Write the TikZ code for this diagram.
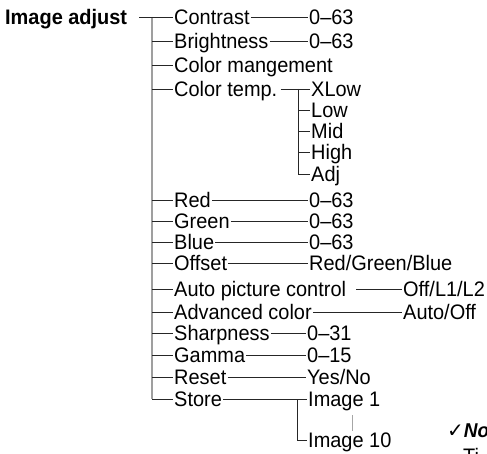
\documentclass[tikz,border=0pt]{standalone}
\usepackage{fontspec}
\setmainfont{Liberation Sans}[FakeStretch=0.95]
\newfontfamily\checkfont{DejaVu Sans}

\tikzset{
  entry/.style={anchor=west, inner sep=1pt, text height=15pt, text depth=0pt,
                font=\fontsize{21}{23}\selectfont},
  branch/.style={black!85, line width=0.8pt},
  trunk/.style={gray!75, line width=1.6pt},
}

\begin{document}
\begin{tikzpicture}[x=1pt, y=-1pt]
\useasboundingbox (0,0) rectangle (487,454);

%% === TITOLO E TRONCO ===
\node[entry, font=\fontsize{21}{23}\selectfont\bfseries] (title) at (4,17) {Image adjust};
\coordinate (ttop) at (152,17);
\coordinate (tbot) at (152,399);

%% === VOCI DEL MENU ===
\foreach \n/\txt/\y in {contrast/Contrast/17, brightness/Brightness/41,
    colormang/Color mangement/65, colortemp/Color temp./89, red/Red/200,
    green/Green/221, blue/Blue/242, offset/Offset/263,
    autopic/Auto picture control/289, advcolor/Advanced color/312,
    sharp/Sharpness/333, gamma/Gamma/355, reset/Reset/377, store/Store/399}
    \node[entry] (\n) at (173,\y) {\txt};

%% === VALORI ===
\node[entry] (contrastv) at (308,17)  {0--63};
\node[entry] (brightv)   at (308,41)  {0--63};
\node[entry] (redv)      at (308,200) {0--63};
\node[entry] (greenv)    at (308,221) {0--63};
\node[entry] (bluev)     at (308,242) {0--63};
\node[entry] (offsetv)   at (308,263) {Red/Green/Blue};
\node[entry] (autopicv)  at (402,289) {Off/L1/L2};
\node[entry] (advcolorv) at (402,312) {Auto/Off};
\node[entry] (sharpv)    at (306,333) {0--31};
\node[entry] (gammav)    at (306,355) {0--15};
\node[entry] (resetv)    at (306,377) {Yes/No};
\node[entry] (img1)      at (307,399) {Image 1};
\node[entry] (img10)     at (307,440) {Image 10};

%% Color temp.: sotto-menu
\foreach \n/\txt/\y in {xlow/XLow/89, low/Low/110, mid/Mid/131, high/High/152, adj/Adj/174}
    \node[entry] (\n) at (310,\y) {\txt};

%% === CONNETTORI ===
\draw[trunk] (ttop) -- (tbot);
\draw[branch] ([xshift=11pt]title.east) -- (contrast.west);
\foreach \n in {brightness,colormang,colortemp,red,green,blue,offset,
                autopic,advcolor,sharp,gamma,reset,store}
    \draw[branch] (ttop |- \n.west) -- (\n.west);

\foreach \a/\b in {contrast/contrastv, brightness/brightv, red/redv, green/greenv,
                   blue/bluev, offset/offsetv, advcolor/advcolorv, sharp/sharpv,
                   gamma/gammav, reset/resetv, store/img1}
    \draw[branch] (\a.east) -- (\b.west);
\draw[branch] ([xshift=9pt]autopic.east) -- (autopicv.west);

\coordinate (ctj) at (298,89);
\draw[branch] ([xshift=2pt]colortemp.east) -- (xlow.west);
\draw[branch] (ctj) |- (adj.west);
\foreach \n in {low,mid,high}
    \draw[branch] (ctj |- \n.west) -- (\n.west);

\coordinate (stj) at (297,399);
\draw[branch] (stj) |- (img10.west);
\coordinate (dota) at (352,415);
\coordinate (dotb) at (352,431);
\draw[gray!70, line width=0.8pt] (dota) -- (dotb);

%% nota (tagliata dal bordo)
\node[entry, font=\fontsize{20}{22}\selectfont\bfseries\itshape] (note) at (446,430)
    {{\checkfont\mdseries\upshape\fontsize{20}{20}\selectfont ✓}No};
\node[entry] (notetxt) at (462,456) {Ti};

\end{tikzpicture}
\end{document}
